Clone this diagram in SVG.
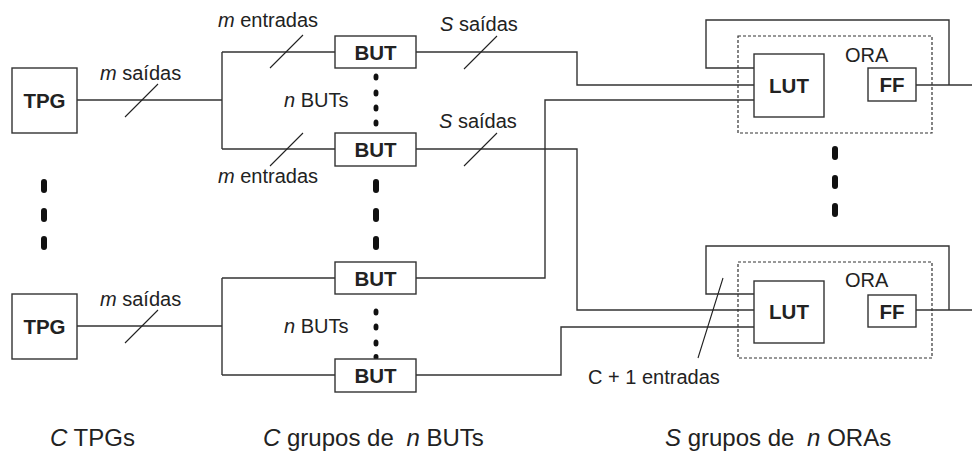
<svg xmlns="http://www.w3.org/2000/svg" width="972" height="452" viewBox="0 0 972 452">
  <style>
    text { font-family: "Liberation Sans", Arial, sans-serif; fill: #222; }
    .lbl { font-size: 20px; }
    .big { font-size: 24px; }
    .box { fill: #fff; stroke: #333; stroke-width: 1.4; }
    .name { font-size: 20.5px; font-weight: bold; text-anchor: middle; }
    .wire { fill: none; stroke: #333; stroke-width: 1.4; }
    .bus { fill: none; stroke: #222; stroke-width: 1.1; }
    .dash { fill: none; stroke: #333; stroke-width: 1.2; stroke-dasharray: 3 2; }
    .dot { fill: #111; }
  </style>

  <!-- wires -->
  <g id="connectors">
    <!-- TPG 1 to first BUT group -->
    <path class="wire" d="M77,100 H222 M222,52 V149 M222,52 H335 M222,149 H335"/>
    <!-- TPG C to last BUT group -->
    <path class="wire" d="M77,326 H222 M222,278 V375 M222,278 H335 M222,375 H335"/>
    <!-- BUT outputs to the LUTs -->
    <path class="wire" d="M416,52 H577 V85 H754"/>
    <path class="wire" d="M416,149 H577 V310 H754"/>
    <path class="wire" d="M416,278 H545 V100 H754"/>
    <path class="wire" d="M416,375 H561 V327 H754"/>
    <!-- feedback loops and outputs -->
    <path class="wire" d="M754,68 H706 V20 H949 V85"/>
    <path class="wire" d="M916,85 H972"/>
    <path class="wire" d="M754,294 H706 V246 H949 V310"/>
    <path class="wire" d="M916,310 H972"/>
    <!-- bus width slashes -->
    <path class="bus" d="M125,117 L158,84 M125,343 L158,310 M270,68 L303,35 M270,166 L303,133 M464,69 L497,36 M464,166 L497,133 M698,358 L723,278"/>
  </g>

  <!-- bus labels -->
  <g id="labels">
    <text class="lbl" x="100" y="80"><tspan font-style="italic">m</tspan> saídas</text>
    <text class="lbl" x="100" y="306"><tspan font-style="italic">m</tspan> saídas</text>
    <text class="lbl" x="218" y="27"><tspan font-style="italic">m</tspan> entradas</text>
    <text class="lbl" x="218" y="183"><tspan font-style="italic">m</tspan> entradas</text>
    <text class="lbl" x="284" y="107"><tspan font-style="italic">n</tspan> BUTs</text>
    <text class="lbl" x="284" y="333"><tspan font-style="italic">n</tspan> BUTs</text>
    <text class="lbl" x="440" y="31"><tspan font-style="italic">S</tspan> saídas</text>
    <text class="lbl" x="439" y="128"><tspan font-style="italic">S</tspan> saídas</text>
    <text class="lbl" x="588" y="384">C + 1 entradas</text>
    <text class="big" x="50" y="446"><tspan font-style="italic">C</tspan> TPGs</text>
    <text class="big" x="263" y="446"><tspan font-style="italic">C</tspan> grupos de <tspan font-style="italic" dx="6">n</tspan> BUTs</text>
    <text class="big" x="665" y="446"><tspan font-style="italic">S</tspan> grupos de <tspan font-style="italic" dx="6">n</tspan> ORAs</text>
  </g>

  <!-- ellipsis dots -->
  <g id="dots">
    <rect class="dot" x="41" y="179" width="6" height="14" rx="3"/>
    <rect class="dot" x="41" y="208" width="6" height="14" rx="3"/>
    <rect class="dot" x="41" y="236" width="6" height="14" rx="3"/>
    <rect class="dot" x="373" y="179" width="6" height="14" rx="3"/>
    <rect class="dot" x="373" y="208" width="6" height="14" rx="3"/>
    <rect class="dot" x="373" y="236" width="6" height="14" rx="3"/>
    <rect class="dot" x="832" y="146" width="6" height="14" rx="3"/>
    <rect class="dot" x="832" y="175" width="6" height="14" rx="3"/>
    <rect class="dot" x="832" y="203" width="6" height="14" rx="3"/>
    <ellipse class="dot" cx="376" cy="77" rx="2.5" ry="3.5"/>
    <ellipse class="dot" cx="376" cy="93" rx="2.5" ry="3.5"/>
    <ellipse class="dot" cx="376" cy="108" rx="2.5" ry="3.5"/>
    <ellipse class="dot" cx="376" cy="123" rx="2.5" ry="3.5"/>
    <ellipse class="dot" cx="376" cy="312" rx="2.5" ry="3.5"/>
    <ellipse class="dot" cx="376" cy="327" rx="2.5" ry="3.5"/>
    <ellipse class="dot" cx="376" cy="343" rx="2.5" ry="3.5"/>
    <ellipse class="dot" cx="376" cy="357" rx="2.5" ry="3"/>
  </g>

  <!-- test pattern generators -->
  <g id="tpg1">
    <rect class="box" x="12" y="68" width="65" height="65"/>
    <text class="name" x="44.5" y="108">TPG</text>
  </g>
  <g id="tpg2">
    <rect class="box" x="12" y="294" width="65" height="65"/>
    <text class="name" x="44.5" y="334">TPG</text>
  </g>

  <!-- blocks under test -->
  <g id="but1">
    <rect class="box" x="335" y="36" width="81" height="32"/>
    <text class="name" x="375.5" y="59.5">BUT</text>
  </g>
  <g id="but2">
    <rect class="box" x="335" y="133" width="81" height="33"/>
    <text class="name" x="375.5" y="157">BUT</text>
  </g>
  <g id="but3">
    <rect class="box" x="335" y="262" width="81" height="32"/>
    <text class="name" x="375.5" y="285.5">BUT</text>
  </g>
  <g id="but4">
    <rect class="box" x="335" y="359" width="81" height="33"/>
    <text class="name" x="375.5" y="383">BUT</text>
  </g>

  <!-- output response analysers -->
  <g id="ora1">
    <rect class="dash" x="738" y="36" width="194" height="97"/>
    <text class="lbl" x="845" y="62">ORA</text>
    <rect class="box" x="754" y="54" width="70" height="63"/>
    <text class="name" x="789" y="93">LUT</text>
    <rect class="box" x="868" y="68" width="48" height="33"/>
    <text class="name" x="892" y="92">FF</text>
  </g>
  <g id="ora2">
    <rect class="dash" x="738" y="262" width="194" height="96"/>
    <text class="lbl" x="845" y="287">ORA</text>
    <rect class="box" x="754" y="281" width="70" height="62"/>
    <text class="name" x="789" y="319">LUT</text>
    <rect class="box" x="868" y="295" width="48" height="32"/>
    <text class="name" x="892" y="318.5">FF</text>
  </g>
</svg>
